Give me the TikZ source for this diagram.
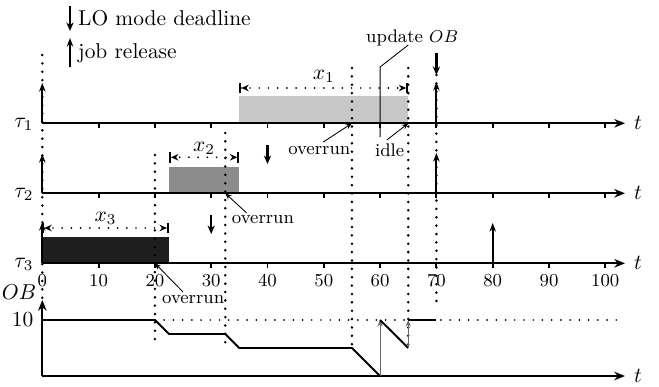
\documentclass[tikz,border=0pt]{standalone}
\usetikzlibrary{arrows.meta}
\begin{document}
\begin{tikzpicture}[x=2.6236pt,y=-0.466pt,
  font=\fontsize{10}{12}\selectfont,
  ax/.style={line width=0.9pt,-{Stealth[length=5pt,width=4pt]}},
  rel/.style={line width=0.9pt,-{Stealth[length=4pt,width=3pt]}},
  dl/.style={line width=1.1pt,-{Stealth[length=4pt,width=3.4pt]}},
  vdots/.style={line width=1.3pt,line cap=round,dash pattern=on 0pt off 3.9pt},
  hdots/.style={line width=0.9pt,line cap=round,dash pattern=on 0pt off 4.3pt},
  dimline/.style={hdots,{Bar[width=5pt]Stealth[length=3.5pt,width=3pt]}-{Stealth[length=3.5pt,width=3pt]Bar[width=5pt]}},
  lead/.style={line width=0.4pt,-{Stealth[length=3pt,width=2.4pt]}},
  thinarr/.style={line width=0.5pt,black!60,-{Stealth[length=3pt,width=2.4pt]}},
  obline/.style={line width=0.9pt},
  small lbl/.style={font=\fontsize{8.5}{10}\selectfont,inner sep=0.5pt},
  tickline/.style={line width=0.9pt}]
\useasboundingbox (-7.513,0) rectangle (109.54,387);

% execution boxes
\fill[black!22] (35,96) rectangle (65,123.3);
\fill[black!45] (22.5,166.7) rectangle (35,193.3);
\fill[black!88] (0,236.7) rectangle (22.5,263.3);

% vertical dotted lines
\draw[vdots] (0,55) -- (0,300);
\draw[vdots] (20,155) -- (20,347);
\draw[vdots] (32.5,133) -- (32.5,347);
\draw[vdots] (55,68) -- (55,347);
\draw[vdots] (65,68) -- (65,347);
\draw[vdots] (70,75) -- (70,305);

% task axes
\foreach \y/\n in {123.3/1,193.3/2,263.3/3} {
  \draw[ax] (0,\y) -- (103.5,\y) node[right=0.5pt] (t\n) {$t$};
  \node[anchor=base east,inner sep=0pt] (tau\n) at (-1.5,\y+4.4) {$\tau_{\n}$};
  \foreach \k in {10,20,...,100} \draw[tickline] (\k,\y) -- (\k,\y+5);
}
\foreach \k in {0,10,...,100}
  \node[small lbl] (lab\k) at (\k,281) {\k};

% OB axes
\draw[ax] (0,376) -- (103.5,376) node[right=0.5pt] (t4) {$t$};
\draw[ax] (0,376) -- (0,300);
\node[anchor=east,inner sep=0pt] (ob) at (-1.0,292) {$OB$};
\node[anchor=east,inner sep=0pt] (ten) at (-1.5,320) {10};

% job releases
\draw[rel] (0,123.3) -- (0,83);
\draw[rel] (70,123.3) -- (70,82);
\draw[rel] (0,193.3) -- (0,154);
\draw[rel] (70,193.3) -- (70,153);
\draw[rel] (0,263.3) -- (0,222);
\draw[rel] (80,263.3) -- (80,223);

% LO mode deadlines
\draw[dl] (70,53) -- (70,75);
\draw[dl] (40,145) -- (40,164);
\draw[dl] (30,215) -- (30,234);

% legend
\draw[dl] (4.92,6) -- (4.92,31);
\node[anchor=base west,inner sep=0pt] (leg1) at (6.3,25) {LO mode deadline};
\draw[rel] (4.92,67) -- (4.92,38);
\node[anchor=base west,inner sep=0pt] (leg2) at (6.3,58) {job release};

% budgets
\draw[dimline] (35,88) -- (65,88);
\node (x1) at (50,76) {$x_1$};
\draw[dimline] (22.5,157.3) -- (35,157.3);
\node (x2) at (28.75,148) {$x_2$};
\draw[dimline] (0,228) -- (22.5,228);
\node (x3) at (11.25,218) {$x_3$};

% OB plot
\draw[hdots] (20,320) -- (102.8,320);
\draw[obline] (0,320) -- (20,320) -- (22.5,334) -- (32.5,334) -- (35,348) -- (55,348) -- (60,376);
\draw[thinarr] (60,376) -- (60,320);
\draw[obline] (60,320) -- (65,348);
\draw[thinarr] (65,348) -- (65,320);
\draw[obline] (65,320) -- (70,320);

% annotations
\node[small lbl] (upd) at (65.7,38) {update $OB$};
\coordinate (upd1) at (65.0,45);
\coordinate (upd2) at (60,67);
\coordinate (upd3) at (60,137);
\draw[line width=0.4pt] (upd1) -- (upd2) -- (upd3);

\node[small lbl] (ov1) at (49.2,151) {overrun};
\coordinate (ov1s) at (49.9,142);
\coordinate (ov1e) at (55,123.3);
\draw[lead] (ov1s) -- (ov1e);

\node[small lbl] (idle) at (61.7,150) {idle};
\coordinate (idles) at (61.2,140);
\coordinate (idlee) at (65,123.3);
\draw[lead] (idles) -- (idlee);

\node[small lbl] (ov2) at (39.2,220) {overrun};
\coordinate (ov2s) at (36.3,213);
\coordinate (ov2e) at (32.5,193.3);
\draw[lead] (ov2s) -- (ov2e);

\node[small lbl] (ov3) at (26.8,300) {overrun};
\coordinate (ov3s) at (25.0,292);
\coordinate (ov3e) at (20,263.3);
\draw[lead] (ov3s) -- (ov3e);
\end{tikzpicture}
\end{document}
